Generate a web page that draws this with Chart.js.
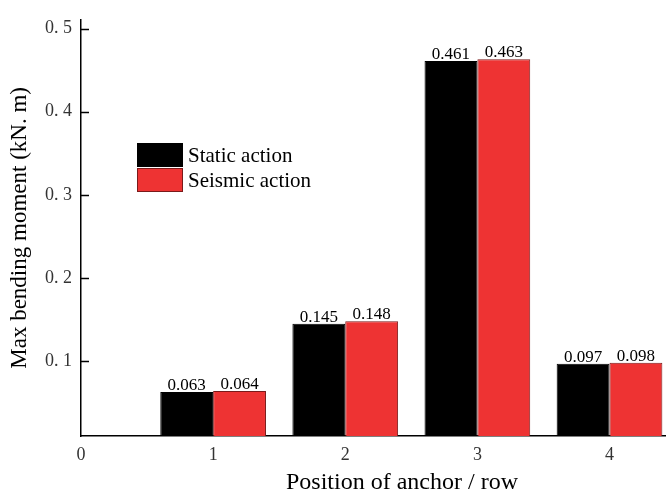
<!DOCTYPE html>
<html>
<head>
<meta charset="utf-8">
<script src="https://cdn.jsdelivr.net/npm/chart.js@4.4.0/dist/chart.umd.min.js"></script>
<style>
  html, body { margin: 0; padding: 0; background: #fff; }
  #wrap { width: 667px; height: 495px; }
</style>
</head>
<body>
<div id="wrap"><canvas id="c" width="667" height="495"></canvas></div>
<script>
// Anchor rows and the maximum bending moment for each load case (kN·m)
const positions = [1, 2, 3, 4];
const staticAction = [0.063, 0.145, 0.461, 0.097];
const seismicAction = [0.064, 0.148, 0.463, 0.098];
const seriesNames = ['Static action', 'Seismic action'];
const xTickValues = [0, 1, 2, 3, 4];
const yTickValues = [0.1, 0.2, 0.3, 0.4, 0.5];
const yTickLabels = ['0. 1', '0. 2', '0. 3', '0. 4', '0. 5'];
const xAxisTitle = 'Position of anchor / row';
const yAxisTitle = 'Max bending moment (kN. m)';

const serif = '"Liberation Serif", "Times New Roman", serif';

const toPoints = arr => arr.map((v, i) => ({ x: positions[i], y: v }));

// Inward tick marks on the value axis
const innerTicks = {
  id: 'innerTicks',
  afterDraw(chart) {
    const { ctx, scales: { y }, chartArea } = chart;
    ctx.save();
    ctx.strokeStyle = '#000';
    ctx.lineWidth = 1.5;
    yTickValues.forEach(v => {
      const py = Math.round(y.getPixelForValue(v)) + 0.5;
      ctx.beginPath();
      ctx.moveTo(chartArea.left, py);
      ctx.lineTo(chartArea.left + 8, py);
      ctx.stroke();
    });
    ctx.restore();
  }
};

// Value labels above each bar
const barValues = {
  id: 'barValues',
  afterDatasetsDraw(chart) {
    const { ctx } = chart;
    ctx.save();
    ctx.fillStyle = '#000';
    ctx.font = '17px ' + serif;
    ctx.textAlign = 'center';
    ctx.textBaseline = 'alphabetic';
    chart.data.datasets.forEach((ds, di) => {
      chart.getDatasetMeta(di).data.forEach((bar, i) => {
        ctx.fillText(ds.data[i].y.toFixed(3), bar.x, bar.y - 2);
      });
    });
    ctx.restore();
  }
};

// Boxed legend inside the plot area
const boxLegend = {
  id: 'boxLegend',
  afterDraw(chart) {
    const { ctx } = chart;
    ctx.save();
    ctx.font = '21px ' + serif;
    ctx.textBaseline = 'middle';
    chart.data.datasets.forEach((ds, i) => {
      const x = 137, y = 143 + i * 25, w = 46, h = 24;
      ctx.fillStyle = ds.backgroundColor;
      ctx.fillRect(x, y, w, h);
      ctx.strokeStyle = ds.borderColor;
      ctx.lineWidth = 1;
      ctx.strokeRect(x + 0.5, y + 0.5, w - 1, h - 1);
      ctx.fillStyle = '#000';
      ctx.fillText(seriesNames[i], x + w + 5, y + h / 2 + 1);
    });
    ctx.restore();
  }
};

// Horizontal-axis caption, set a little right of the plot centre
const xCaption = {
  id: 'xCaption',
  afterDraw(chart) {
    const { ctx } = chart;
    ctx.save();
    ctx.fillStyle = '#000';
    ctx.font = '24px ' + serif;
    ctx.textAlign = 'center';
    ctx.textBaseline = 'alphabetic';
    ctx.fillText(xAxisTitle, 402, 489);
    ctx.restore();
  }
};

new Chart(document.getElementById('c'), {
  type: 'bar',
  data: {
    datasets: [
      {
        label: seriesNames[0],
        data: toPoints(staticAction),
        backgroundColor: '#000000',
        borderColor: '#000000',
        borderWidth: 1
      },
      {
        label: seriesNames[1],
        data: toPoints(seismicAction),
        backgroundColor: '#EE3333',
        borderColor: '#7a1a1a',
        borderWidth: 1
      }
    ]
  },
  options: {
    responsive: false,
    animation: false,
    devicePixelRatio: 1,
    layout: { padding: { top: 10, right: 2, left: 0, bottom: 0 } },
    datasets: { bar: { categoryPercentage: 0.8, barPercentage: 1.0, grouped: true } },
    plugins: { legend: { display: false }, tooltip: { enabled: false } },
    scales: {
      x: {
        type: 'linear',
        offset: false,
        min: 0,
        max: 4.42,
        grid: { display: false, drawTicks: false, offset: false },
        border: { display: true, color: '#000', width: 1.5 },
        afterBuildTicks(scale) { scale.ticks = xTickValues.map(v => ({ value: v })); },
        ticks: {
          font: { family: serif, size: 18 },
          color: '#333',
          padding: 8,
          callback: v => String(v)
        },
        title: { display: false },
        afterFit(scale) { scale.height = 59; }
      },
      y: {
        type: 'linear',
        min: 0.01,
        max: 0.5106,
        grid: { display: false, drawTicks: false },
        border: { display: true, color: '#000', width: 1.5 },
        afterBuildTicks(scale) { scale.ticks = yTickValues.map(v => ({ value: v })); },
        ticks: {
          font: { family: serif, size: 18 },
          color: '#333',
          padding: 9,
          callback: (v, i) => yTickLabels[i]
        },
        title: {
          display: true,
          text: yAxisTitle,
          font: { family: serif, size: 23 },
          color: '#000',
          padding: { top: 6, bottom: 4 }
        },
        afterFit(scale) { scale.width = 81; }
      }
    }
  },
  plugins: [innerTicks, barValues, boxLegend, xCaption]
});
</script>
</body>
</html>
